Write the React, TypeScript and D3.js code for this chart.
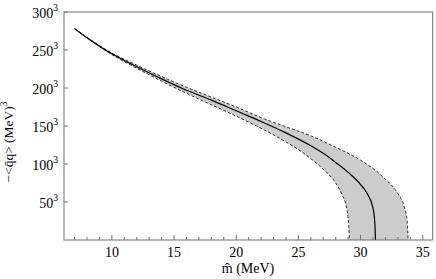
import React from 'react';
import * as d3 from 'd3';

// m̂ (MeV) vs (−<q̄q>)^(1/3) (MeV)
const mCenter = [7, 8, 9, 10, 12, 14, 16, 18, 20, 22, 24, 26, 27, 28, 29, 30, 30.5, 31, 31.15, 31.2];
const vCenter = [278, 266, 255, 245, 228, 212, 197, 184, 170, 156, 141, 124, 114, 102, 89, 73, 62, 42, 21, 0];

const mUpper = [7, 10, 12, 14, 16, 18, 20, 22, 24, 26, 28, 30, 31, 32, 33, 33.5, 33.75, 33.82];
const vUpper = [278, 246, 230, 215, 201, 188, 175, 161, 149, 137, 122, 105, 94, 80, 61, 44, 24, 0];

const mLower = [7, 10, 12, 14, 16, 18, 20, 22, 24, 25, 26, 27, 28, 28.5, 28.9, 29.05, 29.1];
const vLower = [278, 244, 226, 209, 193, 178, 163, 147, 129, 119, 107, 93, 75, 60, 40, 20, 0];

const xTicks = [10, 15, 20, 25, 30, 35];
const xMinor = d3.range(7, 36);
const yTicks = [50, 100, 150, 200, 250, 300];

const W = 436;
const H = 279;
const FONT = "'Liberation Serif', 'DejaVu Serif', 'Times New Roman', Times, serif";

export default function App() {
  const x = d3.scaleLinear().domain([6.15, 35.8]).range([64, 432.7]);
  const y = d3.scaleLinear().domain([0, 300]).range([240, 12]);

  const line = d3
    .line<[number, number]>()
    .x(d => x(d[0]))
    .y(d => y(d[1]))
    .curve(d3.curveMonotoneX);

  const center = mCenter.map((m, i) => [m, vCenter[i]] as [number, number]);
  const upper = mUpper.map((m, i) => [m, vUpper[i]] as [number, number]);
  const lower = mLower.map((m, i) => [m, vLower[i]] as [number, number]);

  // band: upper forward, then lower reversed (closes along the axis)
  const bandPath = line(upper) + 'L' + line(lower.slice().reverse())!.slice(1) + 'Z';

  const [x0, x1] = x.range();
  const [y0, y1] = y.range();
  const frame = '#707070';

  return (
    <svg
      width={W}
      height={H}
      style={{ position: 'absolute', left: 0, top: 0, background: '#fff', fontFamily: FONT }}
    >
      <path d={bandPath} fill="#cccccc" stroke="none" />
      <path d={line(upper)!} fill="none" stroke="#333" strokeWidth={1} strokeDasharray="3,2" />
      <path d={line(lower)!} fill="none" stroke="#333" strokeWidth={1} strokeDasharray="3,2" />
      <path d={line(center)!} fill="none" stroke="#000" strokeWidth={1.2} />

      {/* frame */}
      <rect x={x0} y={y1} width={x1 - x0} height={y0 - y1} fill="none" stroke={frame} strokeWidth={1} />

      {/* x ticks */}
      {xMinor.map(t => (
        <line key={'m' + t} x1={x(t)} x2={x(t)} y1={y0} y2={y0 - (t % 5 === 0 ? 5 : 3)} stroke={frame} />
      ))}
      {xTicks.map(t => (
        <text key={'xt' + t} x={x(t)} y={y0 + 17} textAnchor="middle" fontSize={14} fill="#000" style={{ fontFamily: FONT }}>
          {t}
        </text>
      ))}

      {/* y ticks */}
      {yTicks.map(t => (
        <g key={'yt' + t}>
          <line x1={x0} x2={x0 + 4} y1={y(t)} y2={y(t)} stroke={frame} />
          <text x={x0 - 6} y={y(t) + 6} textAnchor="end" fontSize={14} fill="#000" style={{ fontFamily: FONT }}>
            {t}
            <tspan fontSize={9.5} dy={-7}>3</tspan>
          </text>
        </g>
      ))}

      {/* axis titles */}
      <text x={248} y={273} textAnchor="middle" fontSize={14} fill="#000" style={{ fontFamily: FONT }}>
        {'m\u0302 (MeV)'}
      </text>
      <text
        transform={`translate(13,142) rotate(-90)`}
        textAnchor="middle"
        fontSize={13.5}
        fill="#000"
        style={{ fontFamily: FONT }}
      >
        {'\u2212<q\u0304q> (MeV)'}
        <tspan fontSize={9.5} dy={-6}>3</tspan>
      </text>
    </svg>
  );
}
